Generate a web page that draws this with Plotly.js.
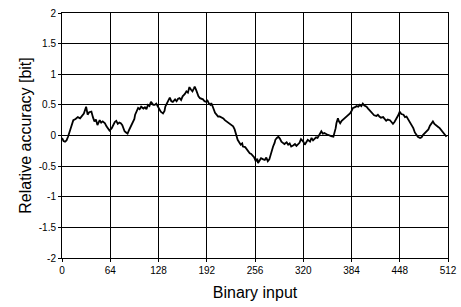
<!DOCTYPE html>
<html>
<head>
<meta charset="utf-8">
<script src="https://cdn.plot.ly/plotly-3.0.1.min.js"></script>
<style>html,body{margin:0;padding:0;background:#fff;}#chart{width:461px;height:307px;}</style>
</head>
<body>
<div id="chart"></div>
<script>
// Binary input (x) and relative accuracy in bits (y)
var binaryInput = [0,2,4,6,8,10,12,15,18,21,24,26,29,32,34,36,39,41,43,45,47,50,52,54,57,59,61,63,66,68,70,72,74,76,78,80,82,83,85,87,89,91,93,94,96,97,99,101,103,105,108,110,112,114,116,118,121,123,125,127,129,131,133,134,136,137,139,141,143,145,147,150,152,154,156,158,160,163,165,167,169,171,173,175,176,178,179,181,183,185,187,189,191,193,195,197,198,200,201,203,205,207,209,212,214,216,218,220,222,225,227,229,230,232,233,235,237,239,240,243,245,247,249,251,253,255,257,259,260,262,264,267,269,271,273,275,277,279,280,282,283,285,287,289,291,293,295,298,300,302,304,307,309,311,313,315,317,320,322,324,326,329,331,333,335,337,339,342,344,346,348,351,353,355,357,360,362,363,364,366,367,369,371,373,375,378,380,382,384,386,388,391,393,395,397,399,401,404,406,408,410,412,414,417,419,421,423,426,428,430,432,435,437,439,441,444,446,448,450,453,455,457,459,461,463,466,468,470,472,475,477,479,481,484,486,488,490,492,494,497,499,501,503,505,507,510,512];
var relativeAccuracy = [-0.04,-0.09,-0.1,-0.08,-0.02,0.06,0.15,0.25,0.27,0.3,0.28,0.31,0.36,0.47,0.34,0.38,0.39,0.3,0.23,0.26,0.17,0.25,0.21,0.23,0.2,0.15,0.12,0.08,0.12,0.17,0.22,0.24,0.19,0.21,0.2,0.17,0.12,0.07,0.05,0.03,0.09,0.15,0.19,0.23,0.27,0.34,0.4,0.45,0.43,0.47,0.44,0.46,0.43,0.5,0.48,0.55,0.5,0.5,0.52,0.47,0.43,0.39,0.37,0.36,0.4,0.47,0.52,0.58,0.62,0.56,0.55,0.59,0.56,0.6,0.61,0.58,0.64,0.68,0.72,0.7,0.79,0.75,0.72,0.77,0.8,0.74,0.69,0.64,0.61,0.6,0.59,0.56,0.55,0.57,0.52,0.5,0.53,0.47,0.42,0.37,0.34,0.31,0.31,0.29,0.28,0.25,0.23,0.21,0.19,0.17,0.15,0.1,0.05,0.0,-0.07,-0.11,-0.15,-0.13,-0.18,-0.19,-0.23,-0.26,-0.29,-0.3,-0.33,-0.36,-0.42,-0.38,-0.45,-0.41,-0.37,-0.39,-0.4,-0.36,-0.42,-0.39,-0.29,-0.24,-0.18,-0.12,-0.07,-0.04,-0.02,-0.05,-0.1,-0.12,-0.14,-0.11,-0.15,-0.13,-0.18,-0.16,-0.14,-0.17,-0.15,-0.12,-0.06,-0.1,-0.15,-0.11,-0.07,-0.1,-0.04,-0.08,-0.06,-0.03,-0.04,0.02,0.07,0.03,0.04,0.02,0.01,-0.01,-0.01,-0.02,0.05,0.12,0.2,0.28,0.24,0.2,0.24,0.26,0.29,0.31,0.33,0.36,0.4,0.45,0.46,0.48,0.47,0.5,0.48,0.52,0.49,0.47,0.44,0.41,0.38,0.36,0.33,0.32,0.34,0.31,0.29,0.3,0.27,0.24,0.26,0.25,0.22,0.19,0.22,0.28,0.33,0.39,0.35,0.34,0.3,0.31,0.27,0.23,0.18,0.12,0.05,0.01,-0.02,-0.04,-0.03,0.01,0.04,0.07,0.1,0.16,0.2,0.23,0.19,0.15,0.14,0.12,0.09,0.07,0.03,-0.02];
var xTickVals = [0,64,128,192,256,320,384,448,512];
var yTickVals = [-2,-1.5,-1,-0.5,0,0.5,1,1.5,2];
var yTickText = ['-2','-1.5','-1','-0.5','0','0.5','1','1.5','2'];

var trace = {
  x: binaryInput,
  y: relativeAccuracy,
  type: 'scatter',
  mode: 'lines',
  line: {color: '#000', width: 1.8},
  hoverinfo: 'skip'
};
var layout = {
  width: 461, height: 307,
  margin: {l: 62, r: 13, t: 13, b: 49},
  paper_bgcolor: '#fff', plot_bgcolor: '#fff',
  showlegend: false,
  font: {family: 'Liberation Sans, Arial, sans-serif', color: '#000', size: 10},
  xaxis: {
    range: [0, 512], tickvals: xTickVals, ticktext: xTickVals.map(String),
    showgrid: true, gridcolor: '#000', gridwidth: 1,
    showline: true, linecolor: '#000', linewidth: 1, mirror: true,
    ticks: 'outside', ticklen: 3, tickcolor: '#000',
    zeroline: false, tickfont: {size: 10},
    title: {text: 'Binary input', font: {size: 16}, standoff: 11}
  },
  yaxis: {
    range: [-2, 2], tickvals: yTickVals, ticktext: yTickText,
    showgrid: true, gridcolor: '#000', gridwidth: 1,
    showline: true, linecolor: '#000', linewidth: 1, mirror: true,
    ticks: 'outside', ticklen: 3, tickcolor: '#000',
    zeroline: false, tickfont: {size: 10},
    title: {text: 'Relative accuracy [bit]', font: {size: 16}, standoff: 3}
  }
};
Plotly.newPlot('chart', [trace], layout, {staticPlot: true, displayModeBar: false});
</script>
</body>
</html>
